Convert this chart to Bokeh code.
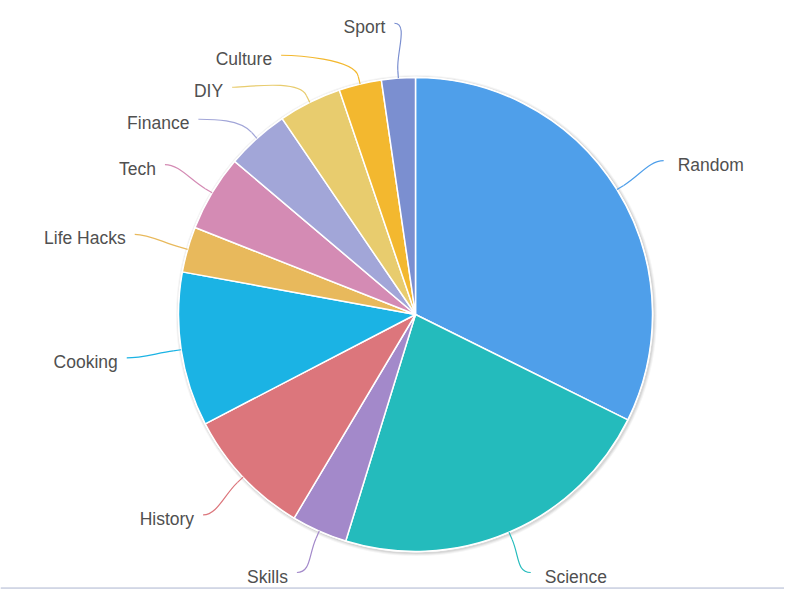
import math
from bokeh.plotting import figure
from bokeh.models import Range1d, BoxAnnotation, Span
from bokeh.core.properties import value
from bokeh.embed import file_html
from bokeh.resources import INLINE

categories = ["Random", "Science", "Skills", "History", "Cooking", "Life Hacks",
              "Tech", "Finance", "DIY", "Culture", "Sport"]
values = [32.3, 22.4, 3.8, 8.8, 10.5, 3.1, 5.2, 4.3, 4.3, 2.9, 2.3]
colors = ["#4f9fea", "#24bbbc", "#a389ca", "#dc767c", "#1bb3e4", "#e8b95c",
          "#d48bb4", "#a2a6d8", "#e8cc6e", "#f3b82f", "#7b8fd0"]

W, H = 784, 589
CX, CY = 415.0, -314.0   # data units == picture pixels (y negated)
R = 237.0
LABEL_R = 292.0
MIN_GAP = 32.0
LOWEST = -572.0

p = figure(width=W, height=H, output_backend="svg", toolbar_location=None,
           x_range=Range1d(0, W), y_range=Range1d(-H, 0),
           x_axis_location=None, y_axis_location=None, min_border=0,
           match_aspect=False)
p.grid.visible = False
p.outline_line_color = None
p.background_fill_color = "white"

# bottom window edge
p.add_layout(BoxAnnotation(bottom=-H - 10, top=-587.8, fill_color="#e9edf5",
                           fill_alpha=1.0, line_color=None))
p.add_layout(Span(location=-587.5, dimension="width", line_color="#b3bbd3", line_width=1.2))

# shadow
for k, a in [(3.5, 0.04), (2.5, 0.05), (1.5, 0.07)]:
    p.circle(x=[CX + 1], y=[CY - 1], radius=R + k, fill_color="black",
             fill_alpha=a, line_color=None)

total = sum(values)
start_deg = []
end_deg = []
acc = 0.0
for v in values:
    start_deg.append(acc)
    acc += v / total * 360.0
    end_deg.append(acc)

# wedges (clockwise from north)
p.wedge(x=CX, y=CY, radius=R,
        start_angle=[math.radians(90 - s) for s in start_deg],
        end_angle=[math.radians(90 - e) for e in end_deg],
        direction="clock", fill_color=colors, line_color="white", line_width=1.5)
p.circle(x=[CX], y=[CY], radius=R + 0.5, fill_color=None, line_color="white", line_width=1)

# label layout
mids = [(s + e) / 2 for s, e in zip(start_deg, end_deg)]
info = []
for i, m in enumerate(mids):
    t = math.radians(m)
    sx, sy = math.sin(t), math.cos(t)
    nat_y = CY + LABEL_R * sy
    info.append({"i": i, "t": t, "sx": sx, "sy": sy, "y": max(nat_y, LOWEST),
                 "clamped": nat_y < LOWEST, "nx": CX + LABEL_R * sx,
                 "left": sx < 0})

# collision avoidance per side (top to bottom)
for side in (True, False):
    items = sorted([d for d in info if d["left"] == side], key=lambda d: -d["y"])
    prev = None
    for d in items:
        if prev is not None and prev - d["y"] < MIN_GAP:
            d["y"] = prev - MIN_GAP
        prev = d["y"]

for d in info:
    if d["clamped"]:
        d["x"] = d["nx"]
    else:
        dy = d["y"] - CY
        dx = math.sqrt(max(LABEL_R ** 2 - dy ** 2, 0.0))
        d["x"] = CX - dx if d["left"] else CX + dx

for d in info:
    i = d["i"]
    ex, ey = CX + R * d["sx"], CY + R * d["sy"]
    bx, by = CX + (R + 8) * d["sx"], CY + (R + 8) * d["sy"]
    c2x, c2y = CX + (R + 26) * d["sx"], CY + (R + 26) * d["sy"]
    lx, ly = d["x"], d["y"]
    sgn = -1 if d["left"] else 1
    c1x, c1y = lx - sgn * 14, ly
    p.bezier(x0=[lx], y0=[ly], x1=[bx], y1=[by], cx0=[c1x], cy0=[c1y],
             cx1=[c2x], cy1=[c2y], line_color=colors[i], line_width=1.2)
    p.line(x=[bx, ex], y=[by, ey], line_color=colors[i], line_width=1.2)
    gap = 9 if d["left"] else 14
    p.text(x=[lx + sgn * gap], y=[ly - 4], text=[categories[i]],
           text_align="right" if d["left"] else "left", text_baseline="middle",
           text_font=value("Liberation Sans"), text_font_size="17.5px",
           text_color="#505050")

open("out.html", "w").write(file_html(p, INLINE))
